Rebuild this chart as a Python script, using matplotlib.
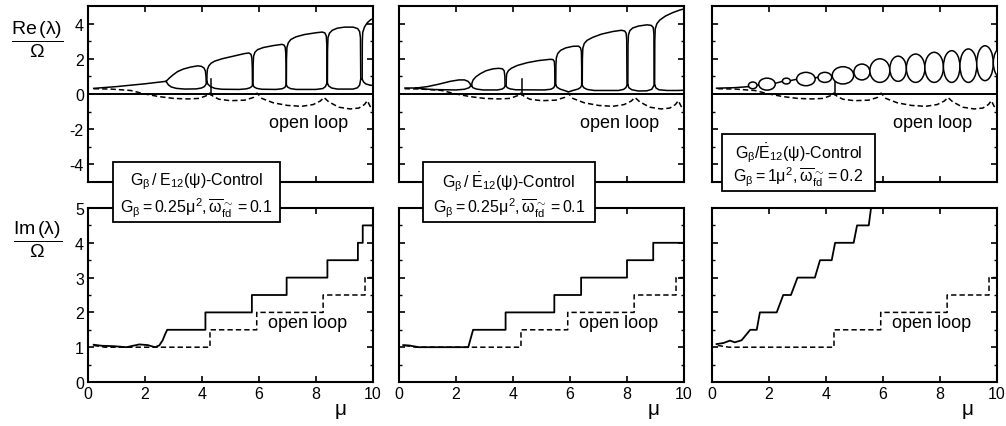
import matplotlib
matplotlib.use('Agg')
import matplotlib.pyplot as plt
from matplotlib.patches import Ellipse, Rectangle

plt.rcParams['font.family'] = ['Liberation Sans', 'DejaVu Sans']
plt.rcParams['mathtext.fontset'] = 'custom'
plt.rcParams['mathtext.rm'] = 'Liberation Sans'
plt.rcParams['mathtext.it'] = 'Liberation Sans'
plt.rcParams['mathtext.sf'] = 'Liberation Sans'

# open loop (same system in all three panels)
ol_re_mu = [0.2, 0.8, 1.5, 2.0, 2.5, 3.0, 3.5, 3.9, 4.15, 4.27, 4.4, 4.6, 5.0, 5.5, 5.8, 5.93,
            6.1, 6.5, 7.0, 7.5, 7.9, 8.15, 8.28, 8.45, 8.8, 9.2, 9.5, 9.7, 9.8, 9.9, 10.0]
ol_re = [0.3, 0.28, 0.2, 0.0, -0.15, -0.25, -0.28, -0.25, -0.1, 0.05, -0.15, -0.3, -0.38, -0.35, -0.2, 0.05,
         -0.25, -0.5, -0.65, -0.7, -0.6, -0.4, -0.2, -0.45, -0.75, -0.85, -0.8, -0.6, -0.38, -0.7, -0.95]
ol_im_mu = [0.2, 0.6, 4.28, 4.28, 5.92, 5.92, 8.25, 8.25, 9.72, 9.72, 10.0]
ol_im = [1.05, 1.0, 1.0, 1.5, 1.5, 2.0, 2.0, 2.5, 2.5, 3.0, 3.0]

# closed loop spike near mu=4.3 (all panels)
spike_mu = [4.3, 4.3]
spike_re = [-0.08, 0.85]

# panel 1: G_beta / E12 control, Re part
p1_lead_mu = [0.2, 1.0, 2.0, 2.74]
p1_lead_re = [0.32, 0.42, 0.58, 0.72]
p1_upper = [
    [(2.74, 0.72), (2.85, 0.9), (2.98, 1.08), (3.15, 1.28), (3.35, 1.42), (3.6, 1.53), (3.85, 1.6),
     (3.98, 1.57), (4.07, 1.48), (4.12, 1.3), (4.14, 1.0), (4.15, 0.6)],
    [(4.17, 0.7), (4.175, 1.1), (4.19, 1.4), (4.24, 1.6), (4.32, 1.75), (4.45, 1.87), (4.7, 2.0), (5.1, 2.15),
     (5.5, 2.3), (5.65, 2.33), (5.72, 2.25), (5.75, 2.05), (5.765, 1.5), (5.77, 0.5)],
    [(5.79, 0.5), (5.795, 1.7), (5.81, 2.15), (5.86, 2.38), (5.95, 2.52), (6.15, 2.64), (6.5, 2.75), (6.8, 2.82),
     (6.88, 2.78), (6.92, 2.65), (6.94, 2.3), (6.95, 1.5), (6.95, 0.5)],
    [(6.96, 0.5), (6.965, 2.0), (6.98, 2.65), (7.03, 2.92), (7.12, 3.1), (7.3, 3.25), (7.6, 3.38), (8.0, 3.48),
     (8.22, 3.52), (8.31, 3.47), (8.36, 3.3), (8.38, 2.8), (8.38, 0.6)],
    [(8.4, 0.6), (8.405, 2.5), (8.42, 3.2), (8.47, 3.45), (8.57, 3.62), (8.75, 3.74), (9.0, 3.8), (9.3, 3.8),
     (9.46, 3.72), (9.53, 3.55), (9.56, 3.2), (9.57, 0.85)],
    [(9.62, 0.85), (9.625, 3.0), (9.64, 3.5), (9.7, 3.8), (9.8, 4.05), (9.92, 4.22), (10.05, 4.32)],
]
p1_lower = [
    [(2.74, 0.72), (2.82, 0.52), (2.92, 0.4), (3.1, 0.32), (3.4, 0.28), (3.8, 0.29), (3.98, 0.34), (4.08, 0.42),
     (4.13, 0.52), (4.15, 0.6)],
    [(4.17, 0.7), (4.21, 0.55), (4.3, 0.42), (4.45, 0.32), (4.7, 0.27), (5.3, 0.26), (5.55, 0.29), (5.68, 0.35),
     (5.75, 0.43), (5.77, 0.5)],
    [(5.79, 0.5), (5.83, 0.4), (5.92, 0.32), (6.1, 0.27), (6.6, 0.26), (6.82, 0.3), (6.91, 0.38), (6.95, 0.5)],
    [(6.96, 0.5), (7.0, 0.4), (7.1, 0.31), (7.3, 0.26), (8.0, 0.26), (8.24, 0.31), (8.33, 0.42), (8.38, 0.6)],
    [(8.4, 0.6), (8.45, 0.45), (8.55, 0.34), (8.75, 0.28), (9.3, 0.28), (9.45, 0.35), (9.53, 0.5), (9.57, 0.85)],
    [(9.62, 0.85), (9.67, 0.68), (9.75, 0.57), (9.9, 0.5), (10.05, 0.48)],
]
p1_im_mu = [0.2, 0.5, 0.9, 1.35, 1.8, 2.1, 2.35, 2.5, 2.62, 2.72, 2.78, 4.12, 4.12, 5.75, 5.75,
            6.97, 6.97, 8.4, 8.4, 9.47, 9.47, 9.64, 9.64, 10.0]
p1_im = [1.07, 1.04, 1.03, 1.0, 1.08, 1.06, 1.0, 1.05, 1.2, 1.4, 1.5, 1.5, 2.0, 2.0, 2.5,
         2.5, 3.0, 3.0, 3.5, 3.5, 4.0, 4.0, 4.5, 4.5]

# panel 2: G_beta / E12-dot control
p2_lead_mu = [0.2, 0.6]
p2_lead_re = [0.34, 0.34]
p2_upper = [
    [(0.6, 0.34), (1.0, 0.42), (1.4, 0.56), (1.8, 0.72), (2.1, 0.8), (2.3, 0.8), (2.42, 0.72), (2.49, 0.6),
     (2.52, 0.45)],
    [(2.55, 0.45), (2.56, 0.62), (2.6, 0.8), (2.7, 0.98), (2.85, 1.15), (3.05, 1.32), (3.3, 1.43), (3.5, 1.46),
     (3.63, 1.43), (3.69, 1.32), (3.715, 1.0), (3.72, 0.45)],
    [(3.76, 0.45), (3.765, 0.9), (3.78, 1.15), (3.84, 1.33), (3.95, 1.47), (4.15, 1.62), (4.5, 1.78), (4.9, 1.9),
     (5.3, 1.97), (5.4, 1.96), (5.45, 1.85), (5.465, 1.5), (5.47, 0.5)],
    [(5.5, 0.5), (5.505, 1.6), (5.52, 2.05), (5.57, 2.3), (5.67, 2.48), (5.85, 2.62), (6.1, 2.71), (6.3, 2.72),
     (6.37, 2.62), (6.4, 2.4), (6.41, 1.5), (6.41, 0.5)],
    [(6.43, 0.5), (6.435, 2.0), (6.45, 2.6), (6.5, 2.87), (6.6, 3.05), (6.8, 3.22), (7.1, 3.4), (7.5, 3.55),
     (7.8, 3.62), (7.92, 3.58), (7.97, 3.45), (7.99, 3.1), (8.0, 0.5)],
    [(8.03, 0.5), (8.035, 2.8), (8.05, 3.35), (8.1, 3.6), (8.2, 3.75), (8.4, 3.86), (8.7, 3.93), (8.85, 3.9),
     (8.92, 3.78), (8.945, 3.4), (8.95, 0.5)],
    [(8.97, 0.5), (8.975, 3.0), (8.99, 3.7), (9.05, 4.0), (9.15, 4.2), (9.35, 4.43), (9.6, 4.62), (9.85, 4.77),
     (10.05, 4.85)],
]
p2_lower = [
    [(0.6, 0.34), (0.9, 0.28), (1.3, 0.25), (2.0, 0.23), (2.3, 0.27), (2.45, 0.35), (2.52, 0.45)],
    [(2.55, 0.45), (2.6, 0.35), (2.72, 0.28), (2.95, 0.23), (3.45, 0.23), (3.62, 0.28), (3.69, 0.36), (3.72, 0.45)],
    [(3.76, 0.45), (3.8, 0.36), (3.9, 0.29), (4.1, 0.24), (5.1, 0.23), (5.33, 0.27), (5.43, 0.36), (5.47, 0.5)],
    [(5.5, 0.5), (5.55, 0.38), (5.65, 0.28), (5.8, 0.2), (5.95, 0.12), (6.1, 0.2), (6.28, 0.28), (6.37, 0.37),
     (6.41, 0.5)],
    [(6.43, 0.5), (6.48, 0.36), (6.6, 0.26), (6.85, 0.2), (7.7, 0.2), (7.88, 0.26), (7.96, 0.36), (8.0, 0.5)],
    [(8.03, 0.5), (8.07, 0.35), (8.17, 0.24), (8.4, 0.17), (8.7, 0.18), (8.87, 0.27), (8.95, 0.5)],
    [(8.97, 0.5), (9.02, 0.34), (9.12, 0.24), (9.4, 0.2), (9.8, 0.2), (10.05, 0.22)],
]
p2_im_mu = [0.15, 0.35, 0.7, 2.43, 2.6, 3.74, 3.74, 5.45, 5.45, 6.39, 6.39, 8.0, 8.0, 8.92, 8.92, 10.0]
p2_im = [1.06, 1.05, 1.0, 1.0, 1.5, 1.5, 2.0, 2.0, 2.5, 2.5, 3.0, 3.0, 3.5, 3.5, 4.0, 4.0]

# panel 3: G_beta = 1 mu^2, chain of small loops
p3_chain_mu = [0.16, 0.8, 1.3, 1.6, 2.2, 2.5, 2.75, 3.0, 3.6, 3.75, 4.2, 5.0, 5.5, 6.2, 6.8, 7.5, 8.1, 8.7, 9.3, 9.9]
p3_chain_re = [0.33, 0.36, 0.42, 0.5, 0.6, 0.73, 0.76, 0.85, 0.92, 0.95, 1.05, 1.25, 1.33, 1.4, 1.45, 1.5, 1.55, 1.6, 1.7, 1.75]
p3_left = [1.28, 1.64, 2.47, 2.97, 3.72, 4.22, 4.98, 5.54, 6.24, 6.82, 7.47, 8.12, 8.70, 9.29, 9.87]
p3_right = [1.58, 2.22, 2.75, 3.62, 4.20, 4.97, 5.54, 6.24, 6.82, 7.47, 8.12, 8.70, 9.29, 9.87, 10.4]
p3_low = [0.30, 0.22, 0.57, 0.47, 0.66, 0.57, 0.80, 0.66, 0.72, 0.66, 0.66, 0.66, 0.66, 0.76, 0.95]
p3_high = [0.68, 0.90, 0.90, 1.23, 1.23, 1.55, 1.70, 2.00, 2.15, 2.27, 2.37, 2.46, 2.56, 2.74, 2.6]
p3_im_mu = [0.16, 0.4, 0.63, 0.8, 1.04, 1.22, 1.34, 1.57, 1.68, 2.27, 2.5, 2.77, 3.0, 3.61, 3.79,
            4.2, 4.32, 4.97, 5.09, 5.5, 5.58, 5.65]
p3_im = [1.09, 1.12, 1.19, 1.14, 1.2, 1.38, 1.5, 1.5, 2.0, 2.0, 2.5, 2.5, 3.0, 3.0, 3.5,
         3.5, 4.0, 4.0, 4.5, 4.5, 5.0, 5.4]

box_line1 = [r'$G_\beta\,/\;E_{12}(\psi)$-Control',
             r'$G_\beta\,/\;\dot{E}_{12}(\psi)$-Control',
             r'$G_\beta/\dot{E}_{12}(\psi)$-Control']
box_line2 = [r'$G_\beta = 0.25\mu^2, \overline{\omega}^{\sim}_{fd} = 0.1$',
             r'$G_\beta = 0.25\mu^2, \overline{\omega}^{\sim}_{fd} = 0.1$',
             r'$G_\beta = 1\mu^2, \overline{\omega}^{\sim}_{fd} = 0.2$']

W, H = 1006, 427
fig = plt.figure(figsize=(W / 100, H / 100), dpi=100)
lefts = [88, 399, 712]
lw = 1.1


def setup(ax, bottom_row, first):
    for s in ax.spines.values():
        s.set_linewidth(1.5)
    ax.set_xlim(0, 10)
    ax.set_xticks([0, 2, 4, 6, 8, 10])
    ax.tick_params(direction='in', top=True, right=True, length=4, width=1.2, labelsize=11.5, pad=3)
    ax.tick_params(which='minor', direction='in', top=False, right=True, length=2.5, width=1)
    if bottom_row:
        ax.set_ylim(0, 5)
        ax.set_yticks([0, 1, 2, 3, 4, 5])
        ax.set_yticks([0.5, 1.5, 2.5, 3.5, 4.5], minor=True)
    else:
        ax.set_ylim(-5, 5)
        ax.set_yticks([-4, -2, 0, 2, 4])
        ax.set_yticks([-3, -1, 1, 3], minor=True)
        ax.set_xticklabels([])
    if not first:
        ax.set_yticklabels([])


top_axes = []
bot_axes = []
for i, l in enumerate(lefts):
    at = fig.add_axes([l / W, 1 - 183 / H, 285 / W, 176 / H])
    ab = fig.add_axes([l / W, 1 - 383 / H, 285 / W, 174 / H])
    setup(at, False, i == 0)
    setup(ab, True, i == 0)
    if i == 0:
        at.set_yticklabels(['-4', '-2', '0', '2', '4'])
    top_axes.append(at)
    bot_axes.append(ab)

# top row
for i, ax in enumerate(top_axes):
    ax.axhline(0, color='k', lw=1.4)
    ax.plot(ol_re_mu, ol_re, color='k', lw=lw, ls=(0, (3.5, 2)))
    ax.plot(spike_mu, spike_re, color='k', lw=lw)
    ax.text(7.75, -1.6, 'open loop', ha='center', va='center', fontsize=13)

for ax, lmu, lre, ups, los in [(top_axes[0], p1_lead_mu, p1_lead_re, p1_upper, p1_lower),
                               (top_axes[1], p2_lead_mu, p2_lead_re, p2_upper, p2_lower)]:
    ax.plot(lmu, lre, color='k', lw=lw)
    for up, lo in zip(ups, los):
        pts = up + lo[::-1]
        ax.plot([p[0] for p in pts], [p[1] for p in pts], color='k', lw=lw)

ax = top_axes[2]
ax.plot(p3_chain_mu, p3_chain_re, color='k', lw=lw, zorder=2)
for l, r, lo, hi in zip(p3_left, p3_right, p3_low, p3_high):
    ax.add_patch(Ellipse(((l + r) / 2, (lo + hi) / 2), r - l, hi - lo,
                         facecolor='white', edgecolor='k', lw=lw, zorder=3))

# bottom row
for ax, mu, im in zip(bot_axes, [p1_im_mu, p2_im_mu, p3_im_mu], [p1_im, p2_im, p3_im]):
    ax.plot(ol_im_mu, ol_im, color='k', lw=lw, ls=(0, (3.5, 2)))
    ax.plot(mu, im, color='k', lw=1.3)
    ax.text(7.7, 1.72, 'open loop', ha='center', va='center', fontsize=13)

# labels
fig.text(37 / W, 1 - 40 / H, r'$\dfrac{\mathrm{Re}\,(\lambda)}{\Omega}$', ha='center', va='center', fontsize=14)
fig.text(38 / W, 1 - 240 / H, r'$\dfrac{\mathrm{Im}\,(\lambda)}{\Omega}$', ha='center', va='center', fontsize=14)
for x in [340, 653, 967]:
    fig.text(x / W, 1 - 412 / H, r'$\mu$', ha='center', va='center', fontsize=15)

# parameter boxes
boxes = [(113, 163, 280, 223), (423, 163, 595, 223), (722, 135, 875, 192)]
for (x0, y0, x1, y1), t1, t2 in zip(boxes, box_line1, box_line2):
    fig.add_artist(Rectangle((x0 / W, 1 - y1 / H), (x1 - x0) / W, (y1 - y0) / H,
                             transform=fig.transFigure, facecolor='white', edgecolor='k',
                             lw=1.3, zorder=5))
    xc = (x0 + x1) / 2 / W
    fig.text(xc, 1 - (y0 + (y1 - y0) * 0.32) / H, t1, ha='center', va='center', fontsize=11.5, zorder=6)
    fig.text(xc, 1 - (y0 + (y1 - y0) * 0.75) / H, t2, ha='center', va='center', fontsize=11.5, zorder=6)

fig.savefig('out.png', dpi=100)
